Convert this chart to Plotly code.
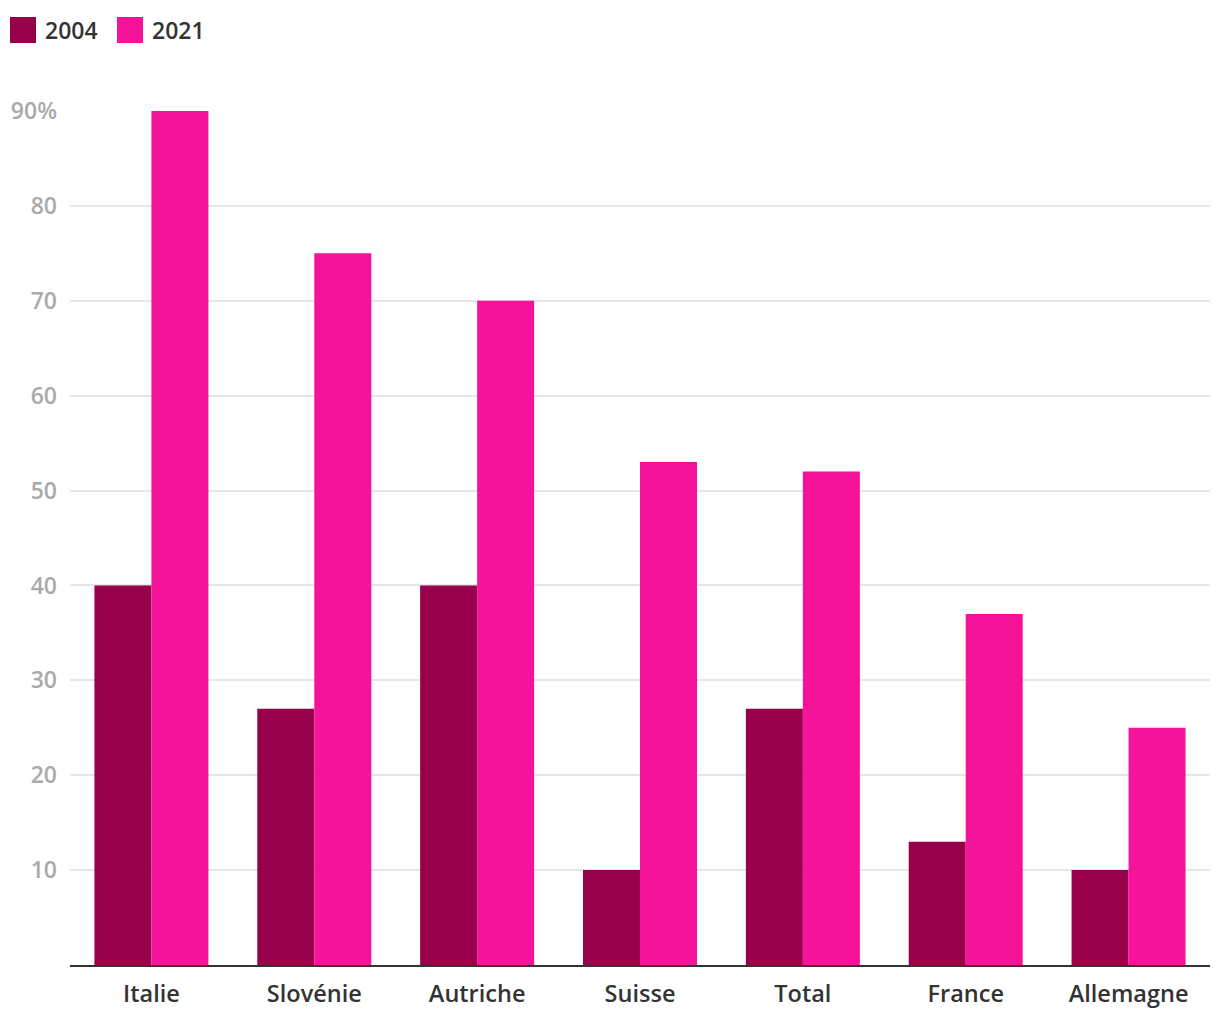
import plotly.graph_objects as go

categories = ["Italie", "Slovénie", "Autriche", "Suisse", "Total", "France", "Allemagne"]
values_2004 = [40, 27, 40, 10, 27, 13, 10]
values_2021 = [90, 75, 70, 53, 52, 37, 25]
series_names = ["2004", "2021"]
colors = ["#99004c", "#f5139a"]
tick_vals = [10, 20, 30, 40, 50, 60, 70, 80, 90]
tick_text = ["10", "20", "30", "40", "50", "60", "70", "80", "90%"]

FONT = "Open Sans"
W = 600

fig = go.Figure()
for name, vals, col in zip(series_names, [values_2004, values_2021], colors):
    fig.add_trace(go.Bar(x=categories, y=vals, name=name, marker=dict(color=col, line=dict(width=0)),
                         showlegend=False))

# custom legend (larger squares like the reference)
PL, PB, PW, PH = 70, 965, 1140, 854
shapes = []
annotations = []
x0 = 10
for i, (name, col) in enumerate(zip(series_names, colors)):
    xs = x0 + i * 107
    shapes.append(dict(type="rect", xref="paper", yref="paper",
                       x0=(xs - PL) / PW, x1=(xs + 26 - PL) / PW,
                       y0=(PB - 43) / PH, y1=(PB - 17) / PH,
                       fillcolor=col, line=dict(width=0)))
    annotations.append(dict(text=name, xref="paper", yref="paper",
                            x=(xs + 33 - PL) / PW, y=(PB - 30) / PH,
                            xanchor="left", yanchor="middle", showarrow=False,
                            font=dict(family=FONT, size=23, color="#333333", weight=W)))

fig.update_layout(
    width=1220, height=1020,
    margin=dict(l=62, r=18, t=103, b=63),
    paper_bgcolor="white", plot_bgcolor="white",
    barmode="group", bargap=0.3, bargroupgap=0,
    font=dict(family=FONT),
    shapes=shapes, annotations=annotations,
    xaxis=dict(showgrid=False, showline=True, linecolor="#333333", linewidth=2,
               ticks="", automargin=False, ticklabelstandoff=7,
               tickfont=dict(family=FONT, size=23.5, color="#333333", weight=W)),
    yaxis=dict(range=[0, 90], tickvals=tick_vals, ticktext=tick_text,
               showgrid=True, gridcolor="#e6e6e6", gridwidth=1.5, zeroline=False,
               ticks="", ticklabelstandoff=12, automargin=False,
               tickfont=dict(family=FONT, size=23, color="#aaaaaa", weight=W)),
)

fig.write_html("out.html")
